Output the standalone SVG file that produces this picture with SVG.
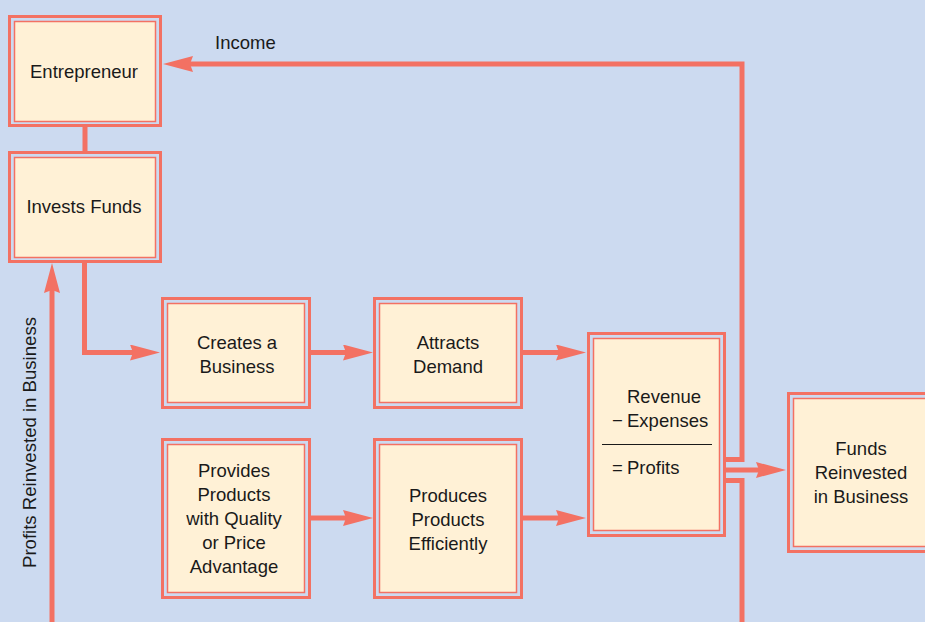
<svg xmlns="http://www.w3.org/2000/svg" width="925" height="622" viewBox="0 0 925 622">
<defs>
<style>
.o{fill:#CCDAF0;stroke:#F37163;stroke-width:3}
.i{fill:#FFF1D6;stroke:#F37163;stroke-width:1.5}
.t{font-family:"Liberation Sans",Arial,sans-serif;font-size:18.5px;fill:#1a1a1a}
.c{text-anchor:middle}
.ln{fill:none;stroke:#F37163;stroke-width:5}
</style>
<marker id="ah" markerUnits="userSpaceOnUse" markerWidth="30" markerHeight="16" viewBox="0 0 30 16" refX="4" refY="8" orient="auto">
<path d="M0,0 L30,8 L0,16 L3,8 z" fill="#F37163"/>
</marker>
</defs>
<rect width="925" height="622" fill="#CCDAF0"/>
<g id="connectors">
<path class="ln" d="M85,127 V151"/>
<path class="ln" d="M84.5,263 V352.5 H134" marker-end="url(#ah)"/>
<path class="ln" d="M311,352.5 H347" marker-end="url(#ah)"/>
<path class="ln" d="M523,352.5 H560" marker-end="url(#ah)"/>
<path class="ln" d="M311,518 H347" marker-end="url(#ah)"/>
<path class="ln" d="M523,518 H560" marker-end="url(#ah)"/>
<path class="ln" d="M726,470 H760" marker-end="url(#ah)"/>
<path class="ln" d="M726,459.5 H742 V64 H189" marker-end="url(#ah)"/>
<path class="ln" d="M726,480.5 H742 V650 H52 V289" marker-end="url(#ah)"/>
<text class="t" x="215" y="49">Income</text>
<text class="t" transform="translate(36,568) rotate(-90)" textLength="251" lengthAdjust="spacingAndGlyphs">Profits Reinvested in Business</text>
</g>
<g id="entrepreneur">
<rect class="o" x="9.5" y="16.5" width="151" height="109"/>
<rect class="i" x="14.5" y="21.5" width="141" height="100"/>
<text class="t c" x="84" y="78">Entrepreneur</text>
</g>
<g id="invests">
<rect class="o" x="9.5" y="152.5" width="151" height="109"/>
<rect class="i" x="14.5" y="157.5" width="141" height="100"/>
<text class="t c" x="84" y="213">Invests Funds</text>
</g>
<g id="creates">
<rect class="o" x="162.5" y="298.5" width="147" height="109"/>
<rect class="i" x="167.5" y="303.5" width="137" height="99"/>
<text class="t c" x="237" y="349">Creates a</text>
<text class="t c" x="237" y="373">Business</text>
</g>
<g id="attracts">
<rect class="o" x="374.5" y="298.5" width="147" height="109"/>
<rect class="i" x="379.5" y="303.5" width="137" height="99"/>
<text class="t c" x="448" y="349">Attracts</text>
<text class="t c" x="448" y="373">Demand</text>
</g>
<g id="provides">
<rect class="o" x="162.5" y="439.5" width="147" height="158"/>
<rect class="i" x="167.5" y="444.5" width="137" height="148"/>
<text class="t c" x="234" y="477">Provides</text>
<text class="t c" x="234" y="501">Products</text>
<text class="t c" x="234" y="525">with Quality</text>
<text class="t c" x="234" y="549">or Price</text>
<text class="t c" x="234" y="573">Advantage</text>
</g>
<g id="produces">
<rect class="o" x="374.5" y="439.5" width="147" height="158"/>
<rect class="i" x="379.5" y="444.5" width="137" height="148"/>
<text class="t c" x="448" y="502">Produces</text>
<text class="t c" x="448" y="526">Products</text>
<text class="t c" x="448" y="550">Efficiently</text>
</g>
<g id="revenue">
<rect class="o" x="588.5" y="333.5" width="136" height="202"/>
<rect class="i" x="593.5" y="338.5" width="126" height="192"/>
<text class="t" x="627" y="403">Revenue</text>
<text class="t" x="612" y="427">−</text>
<text class="t" x="627" y="427">Expenses</text>
<line x1="602" y1="444.5" x2="712" y2="444.5" stroke="#1a1a1a" stroke-width="1.2"/>
<text class="t" x="612" y="474">=</text>
<text class="t" x="627" y="474">Profits</text>
</g>
<g id="funds">
<rect class="o" x="788.5" y="393.5" width="147" height="158"/>
<rect class="i" x="793.5" y="398.5" width="137" height="148"/>
<text class="t c" x="861" y="455">Funds</text>
<text class="t c" x="861" y="479">Reinvested</text>
<text class="t c" x="861" y="503">in Business</text>
</g>
</svg>
